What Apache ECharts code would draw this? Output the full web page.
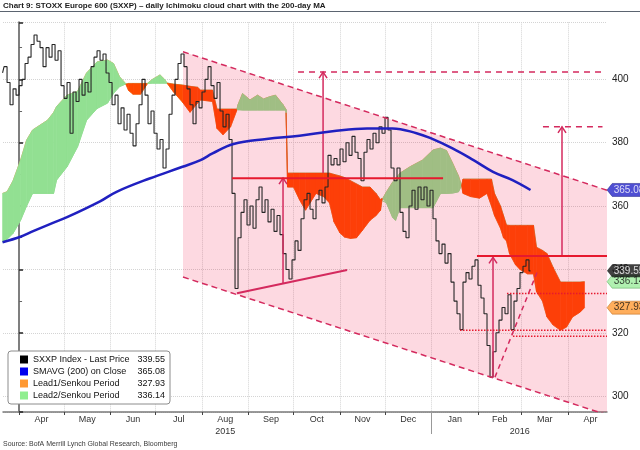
<!DOCTYPE html>
<html>
<head>
<meta charset="utf-8">
<title>STOXX Europe 600 - Ichimoku cloud</title>
<script src="https://cdn.jsdelivr.net/npm/echarts@6.0.0/dist/echarts.min.js"></script>
<style>
  html, body { margin: 0; padding: 0; background: #fff; }
  #chart { width: 640px; height: 450px; }
</style>
</head>
<body>
<div id="chart"></div>
<script>
// every x value below is a day count from 2015-04-01
const priceStart = -11   // first bar, 2015-03-21
const priceStep = 2
const price = [
  402, 404, 399, 392, 397, 395, 398, 400, 405, 407,
  411, 414, 412, 410, 404, 410, 407, 411, 406, 409,
  398, 394, 399, 383, 396, 393, 400, 395, 399, 396,
  404, 407, 409, 406, 408, 402, 399, 392, 395, 386,
  391, 384, 389, 383, 379, 386, 392, 400, 395, 386,
  390, 383, 378, 381, 372, 378, 389, 395, 400, 405,
  408, 404, 397, 392, 386, 393, 391, 396, 400, 404,
  398, 394, 399, 390, 385, 389, 381, 364, 334, 350,
  358, 362, 354, 360, 353, 362, 366, 358, 362, 355,
  359, 352, 357, 351, 345, 340, 337, 343, 349, 346,
  356, 362, 364, 359, 356, 362, 365, 361, 366, 376,
  373, 375, 373, 378, 374, 380, 376, 382, 377, 375,
  368, 377, 381, 378, 383, 380, 385, 383, 388, 384,
  372, 368, 372, 358, 352, 350, 360, 365, 359, 366,
  362, 366, 360, 365, 356, 349, 345, 348, 342, 345,
  336, 330, 326, 321, 336, 339, 337, 341, 343, 335,
  331, 326, 316, 306, 314, 320, 324, 328, 326, 332,
  321, 330, 334, 339, 341, 343, 339.55
]

const smaDays = [-11, 1, 9, 23, 32, 54, 65, 87, 109, 121, 129, 143, 165, 187, 209, 232, 249, 265, 274, 289, 303, 316, 329, 341]
const sma = [348.6, 350.3, 352, 354.8, 356.5, 361.5, 364.5, 368.7, 372.4, 374.5, 376.6, 379.6, 381.2, 382.2, 383.6, 384.5, 384.5, 383, 381.5, 378.2, 374.5, 370.8, 368.2, 365.08]

const cloudDays = [
  -11, -8, -4, 1, 5, 9, 19, 23, 25, 32, 39, 45, 52, 59, 63, 67, 71,
  73, 76, 81, 84, 86, 89, 94, 97, 99,
  103, 109, 114, 119, 121, 129, 132, 136, 141, 145,
  146, 149, 154, 159, 163, 167, 171, 176, 178,
  179, 183, 187, 191, 194, 198, 203, 207, 210, 214, 217, 221, 225, 229, 234, 238, 241, 242,
  245, 249, 251, 254, 261, 269, 276, 281, 285, 289, 293, 295,
  296, 301, 307, 312, 315, 317, 321, 323, 325, 327, 331, 334, 339, 343,
  345, 349, 352, 356, 361, 365, 369, 374, 377
]
const lead1 = [
  364, 364.5, 368, 374.5, 380.8, 384, 387.1, 389.5, 391.4, 395, 396.2, 402, 405.5, 406.1, 405, 400.8, 398.7,
  396.5, 395.3, 395.3, 397.5, 398.9, 400, 401.4, 400, 398.6,
  396, 392.8, 389.6, 392.5, 393.5, 393, 384.5, 382.5, 385, 390,
  392, 395.5, 393.5, 395, 393.8, 394.5, 395, 392, 390.5,
  366, 366, 362, 358.7, 361, 364, 363, 361, 355, 351.5, 350.2, 349.8, 350, 352.4, 355.5, 357, 358.7, 362,
  364.5, 367.5, 368.5, 370.4, 372.5, 374.5, 377.7, 378.3, 377.5, 373.6, 369.5, 366.5,
  364, 363, 362.5, 364, 360, 357, 353, 350, 349, 345, 341.5, 340, 338.6, 338.6,
  333, 330, 325, 322.5, 320.8, 321.8, 325, 326.5, 327.93
]
const lead2 = [
  348.7, 349.5, 351.4, 355.5, 360, 364, 364, 364, 368.2, 372.4, 378.7, 387.1, 390.8, 392.5, 395.6, 397.7, 398.5,
  398.7, 398.7, 398.7, 398.7, 398.7, 398.8, 398.8, 398.8, 398.8,
  398.5, 398.2, 397.8, 397.5, 396.6, 396.6, 390.6, 390.6, 390.6, 390.6,
  390.3, 390.3, 390.3, 390.3, 390.3, 390.3, 390.3, 390.3, 390.3,
  370.4, 370.4, 370.4, 370.4, 370.4, 370.4, 370.4, 370.4, 370, 369.5, 369, 368, 367, 366, 366, 364, 362, 362.5,
  361, 356.5, 355.5, 359.5, 359.5, 359.5, 359.5, 364, 364, 364.1, 364.5, 366.5,
  368.5, 368.5, 368.5, 368.5, 368.5, 364, 360, 357, 354, 353.9, 353.9, 353.9, 353.9, 353.9,
  347, 346, 345, 340.7, 336, 336, 336, 336, 336.14
]

const monthStarts = [0, 30, 61, 91, 122, 153, 183, 214, 244, 275, 306, 335, 366]
const monthMids = [15, 45.5, 76, 106.5, 137.5, 168, 198.5, 229, 259.5, 290.5, 320.5, 350.5, 381]
const monthNames = ['Apr', 'May', 'Jun', 'Jul', 'Aug', 'Sep', 'Oct', 'Nov', 'Dec', 'Jan', 'Feb', 'Mar', 'Apr']
const yearBreaks = [275]

// analyst drawings, [day, value]
const trendUpper = [[109.3, 408.7], [392, 365.0]]
const trendLower = [[109.3, 337.6], [392, 294.1]]
const resistance1 = [[142, 368.8], [282.7, 368.8]]
const resistance2 = [[305.3, 344.2], [392, 344.2]]
const supportRise = [[145.3, 332.5], [218.7, 339.8]]
const risingDash = [[317.3, 306], [345.3, 339]]
const target1 = [[186, 402.3], [389, 402.3]]
const target2 = [[349.3, 385], [389, 385]]
const dotted1 = [[325.3, 332.4], [392, 332.4]]
const dotted2 = [[294, 320.8], [392, 320.8]]
const dotted3 = [[329.3, 318.9], [392, 318.9]]
const arrows = [[176, 335.6, 368.8], [202.7, 370.4, 402.3], [316, 306, 343.8], [362, 344.2, 385]]

const X_MIN = -10.7
const X_MAX = 392
const SANS = "'Liberation Sans', Arial, sans-serif"
const GREEN = '#92e092'
const ORANGE = '#ff4a00'
const RED = '#e6192e'
const CRIMSON = '#d42a5e'

const names = ['SXXP Index - Last Price', 'SMAVG (200) on Close', 'Lead1/Senkou Period', 'Lead2/Senkou Period']
const lastVals = {}
lastVals[names[0]] = price[price.length - 1].toFixed(2)
lastVals[names[1]] = sma[sma.length - 1].toFixed(2)
lastVals[names[2]] = lead1[lead1.length - 1].toFixed(2)
lastVals[names[3]] = lead2[lead2.length - 1].toFixed(2)

function renderCloud(params, api) {
  const i = params.dataIndex
  const a0 = api.coord([cloudDays[i], lead1[i]])
  const b0 = api.coord([cloudDays[i], lead2[i]])
  const a1 = api.coord([cloudDays[i + 1], lead1[i + 1]])
  const b1 = api.coord([cloudDays[i + 1], lead2[i + 1]])
  const s0 = lead1[i] - lead2[i]
  const s1 = lead1[i + 1] - lead2[i + 1]
  const col = s => (s >= 0 ? GREEN : ORANGE)
  const poly = (pts, c) => ({ type: 'polygon', shape: { points: pts }, style: { fill: c, stroke: c, lineWidth: 0.6 } })
  if (s0 * s1 >= 0) {
    return poly([a0, a1, b1, b0], col(s0 !== 0 ? s0 : s1))
  }
  const t = s0 / (s0 - s1)
  const c = [a0[0] + (a1[0] - a0[0]) * t, a0[1] + (a1[1] - a0[1]) * t]
  return { type: 'group', children: [poly([a0, c, b0], col(s0)), poly([c, a1, b1], col(s1))] }
}

function renderChannel(params, api) {
  const pts = [trendUpper[0], trendUpper[1], trendLower[1], trendLower[0]].map(p => api.coord(p))
  return { type: 'polygon', shape: { points: pts }, style: { fill: 'rgba(240, 0, 53, 0.15)' } }
}

function renderArrow(params, api) {
  const a = arrows[params.dataIndex]
  const p0 = api.coord([a[0], a[1]])
  const p1 = api.coord([a[0], a[2]])
  const style = { stroke: CRIMSON, lineWidth: 1.5, fill: null }
  return {
    type: 'group',
    children: [
      { type: 'line', shape: { x1: p0[0], y1: p0[1], x2: p1[0], y2: p1[1] }, style: style },
      { type: 'polyline', shape: { points: [[p1[0] - 4, p1[1] + 6], [p1[0], p1[1]], [p1[0] + 4, p1[1] + 6]] }, style: style }
    ]
  }
}

function seg(pts, color, width, type, z) {
  return {
    type: 'line', data: pts, showSymbol: false, silent: true, z: z,
    lineStyle: { color: color, width: width, type: type }
  }
}

function monthLabel(value) {
  const i = monthMids.indexOf(value)
  if (i < 0) return ''
  if (i === 4) return monthNames[i] + '\n2015'
  if (i === 10) return monthNames[i] + '\n{yr|2016}'
  return monthNames[i]
}

const chart = echarts.init(document.getElementById('chart'))
chart.setOption({
  animation: false,
  backgroundColor: '#fff',
  title: [
    {
      text: 'Chart 9: STOXX Europe 600 (SXXP) – daily Ichimoku cloud chart with the 200-day MA',
      left: 3, top: 2, padding: 0,
      textStyle: { fontSize: 8, fontWeight: 'bold', fontFamily: SANS, color: '#1b1b1b' }
    },
    {
      text: 'Source: BofA Merrill Lynch Global Research, Bloomberg',
      left: 3, top: 441, padding: 0,
      textStyle: { fontSize: 7, fontWeight: 'normal', fontFamily: SANS, color: '#3a3a3a' }
    }
  ],
  graphic: [
    { type: 'line', shape: { x1: 0, y1: 11.5, x2: 640, y2: 11.5 }, style: { stroke: '#5b6470', lineWidth: 1 } }
  ],
  legend: {
    orient: 'vertical', left: 8, top: 351,
    backgroundColor: '#fff', borderColor: '#8c8c8c', borderWidth: 1, borderRadius: 3,
    padding: [4, 5, 4, 12], itemGap: 3, itemWidth: 8, itemHeight: 8, icon: 'rect',
    textStyle: {
      fontSize: 9, fontFamily: SANS, color: '#111',
      rich: {
        n: { width: 106, fontSize: 9, fontFamily: SANS, color: '#111' },
        v: { width: 26, align: 'right', fontSize: 9, fontFamily: SANS, color: '#111' }
      }
    },
    formatter: name => '{n|' + name + '}{v|' + lastVals[name] + '}',
    data: [
      { name: names[0], itemStyle: { color: '#000' } },
      { name: names[1], itemStyle: { color: '#0000ee' } },
      { name: names[2], itemStyle: { color: '#ff9933' } },
      { name: names[3], itemStyle: { color: '#90ee90' } }
    ]
  },
  grid: { left: 3, right: 33, top: 22.3, bottom: 38, outerBoundsMode: 'none', containLabel: false },
  xAxis: [
    {
      type: 'value', min: X_MIN, max: X_MAX,
      axisLine: { show: true, lineStyle: { color: '#7a7a7a', width: 1.5 } },
      axisTick: { show: true, customValues: monthStarts, length: 3, lineStyle: { color: '#444' } },
      axisLabel: {
        customValues: monthMids, formatter: monthLabel, margin: 2,
        fontSize: 9, fontFamily: SANS, color: '#333', lineHeight: 12,
        rich: { yr: { fontSize: 9, fontFamily: SANS, color: '#333', padding: [0, 0, 0, 40] } }
      },
      splitLine: { show: true, lineStyle: { color: '#d4d4d4', type: 'dotted' } }
    },
    {
      type: 'value', min: X_MIN, max: X_MAX, position: 'bottom',
      axisLine: { show: false },
      axisTick: { show: true, customValues: yearBreaks, length: 22, lineStyle: { color: '#999' } },
      axisLabel: { show: false },
      splitLine: { show: false }
    }
  ],
  yAxis: {
    type: 'value', position: 'right', min: 295, max: 418, splitNumber: 6,
    axisLine: { show: true, lineStyle: { color: '#7f7f7f', width: 2 } },
    axisTick: { show: true, length: 4, lineStyle: { color: '#222', width: 1.5 } },
    minorTick: { show: true, splitNumber: 2, length: 3, lineStyle: { color: '#666' } },
    axisLabel: { formatter: v => (v % 20 === 0 ? String(v) : ''), margin: 5, fontSize: 10, fontFamily: SANS, color: '#222' },
    splitLine: { show: true, lineStyle: { color: '#d4d4d4', type: 'dotted' } }
  },
  series: [
    {
      name: names[2], type: 'line', z: 2, showSymbol: false, silent: true,
      data: cloudDays.map((d, i) => [d, lead1[i]]),
      lineStyle: { color: '#d9a45e', width: 1 }
    },
    {
      name: names[3], type: 'line', z: 2, showSymbol: false, silent: true,
      data: cloudDays.map((d, i) => [d, lead2[i]]),
      lineStyle: { color: '#8fd88f', width: 1 }
    },
    {
      type: 'custom', z: 3, silent: true, renderItem: renderCloud,
      data: cloudDays.slice(0, -1).map((d, i) => [d, lead1[i], lead2[i]]),
      encode: { x: 0, y: [1, 2] }
    },
    {
      type: 'custom', z: 4, silent: true, clip: true, renderItem: renderChannel,
      data: [[trendUpper[0][0], trendUpper[0][1], trendLower[0][1]]],
      encode: { x: 0, y: [1, 2] }
    },
    {
      name: names[0], type: 'line', z: 5, step: 'middle', showSymbol: false, silent: true,
      data: price.map((v, i) => [priceStart + i * priceStep, v]),
      lineStyle: { color: '#262626', width: 1.1 }
    },
    seg(trendUpper, CRIMSON, 1.5, [6, 4], 6),
    seg(trendLower, CRIMSON, 1.5, [6, 4], 6),
    seg(target1, CRIMSON, 1.5, [6, 5], 6),
    seg(target2, CRIMSON, 1.5, [6, 5], 6),
    seg(risingDash, CRIMSON, 1.5, [5, 4], 6),
    seg(resistance1, RED, 2, 'solid', 6),
    seg(resistance2, RED, 2, 'solid', 6),
    seg(supportRise, CRIMSON, 2, 'solid', 6),
    seg(dotted1, RED, 1.5, [1.5, 1.5], 6),
    seg(dotted2, RED, 1.5, [1.5, 1.5], 6),
    seg(dotted3, RED, 1.5, [1.5, 1.5], 6),
    {
      type: 'custom', z: 6, silent: true, renderItem: renderArrow,
      data: arrows.map(a => [a[0], a[1], a[2]]),
      encode: { x: 0, y: [1, 2] }
    },
    {
      name: names[1], type: 'line', z: 7, smooth: 0.4, showSymbol: false, silent: true,
      data: smaDays.map((d, i) => [d, sma[i]]),
      lineStyle: { color: '#2020c0', width: 2.5 }
    },
    {
      type: 'scatter', z: 10, clip: false, silent: true,
      symbol: 'path://M0,6L6,0L46,0L46,12L6,12Z', symbolKeepAspect: false,
      symbolSize: [40, 13], symbolOffset: [20, 0],
      label: {
        show: true, position: 'inside', offset: [2, 0],
        formatter: p => p.value[1].toFixed(2), fontSize: 10, fontFamily: SANS
      },
      data: [
        { value: [X_MAX, sma[sma.length - 1]], itemStyle: { color: '#2323c8', borderColor: '#12127a', borderWidth: 0.5 }, label: { color: '#fff' } },
        { value: [X_MAX, lead2[lead2.length - 1]], itemStyle: { color: '#9cec9c', borderColor: '#4a9a4a', borderWidth: 0.5 }, label: { color: '#111' } },
        { value: [X_MAX, price[price.length - 1]], itemStyle: { color: '#111' }, label: { color: '#fff' } },
        { value: [X_MAX, lead1[lead1.length - 1]], itemStyle: { color: '#ff9a33', borderColor: '#b05a10', borderWidth: 0.5 }, label: { color: '#111' } }
      ]
    }
  ]
})
</script>
</body>
</html>
